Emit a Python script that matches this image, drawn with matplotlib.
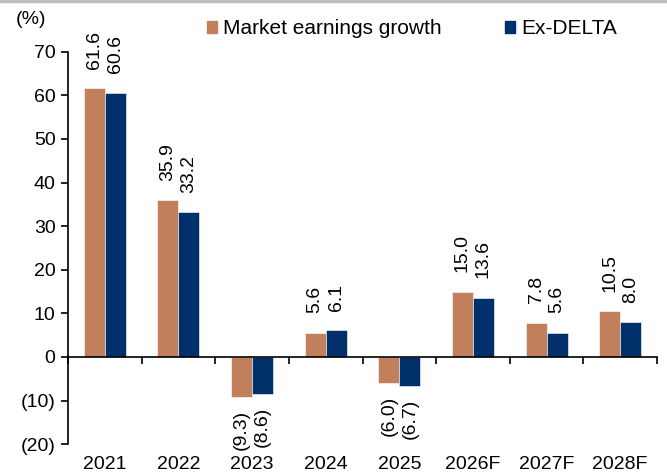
import matplotlib.pyplot as plt
import matplotlib.patches as mpatches
from matplotlib.lines import Line2D
import numpy as np

plt.rcParams['font.family'] = ['Liberation Sans', 'DejaVu Sans']

years = ['2021', '2022', '2023', '2024', '2025', '2026F', '2027F', '2028F']
market = [61.6, 35.9, -9.3, 5.6, -6.0, 15.0, 7.8, 10.5]
ex_delta = [60.6, 33.2, -8.6, 6.1, -6.7, 13.6, 5.6, 8.0]
yticks = [-20, -10, 0, 10, 20, 30, 40, 50, 60, 70]

tan = '#C17F5B'
navy = '#00306A'
fs = 14


def fmt(v):
    return f'({abs(v):.1f})' if v < 0 else f'{v:.1f}'


fig = plt.figure(figsize=(6.67, 4.75), dpi=100)
ax = fig.add_axes([0.102, 0.065, 0.883, 0.826])

x = np.arange(len(years))
w = 0.285
b1 = ax.bar(x - w / 2, market, w, color=tan, edgecolor='white', linewidth=0.4)
b2 = ax.bar(x + w / 2, ex_delta, w, color=navy, edgecolor='white', linewidth=0.4)

for bars, vals in ((b1, market), (b2, ex_delta)):
    for rect, v in zip(bars, vals):
        cx = rect.get_x() + rect.get_width() / 2
        if v >= 0:
            ax.annotate(fmt(v), (cx, v), xytext=(0, 14), textcoords='offset points',
                        rotation=90, ha='center', va='bottom', fontsize=fs)
        else:
            ax.annotate(fmt(v), (cx, v), xytext=(0, -9), textcoords='offset points',
                        rotation=90, ha='center', va='top', fontsize=fs)

ax.set_xlim(-0.5, len(years) - 0.5)
ax.set_ylim(-20, 70)
ax.set_yticks(yticks)
ax.set_yticklabels([f'({abs(v)})' if v < 0 else str(v) for v in yticks])
ax.tick_params(axis='y', direction='out', length=5, width=1.2, labelsize=fs, pad=4)

for s in ['top', 'right']:
    ax.spines[s].set_visible(False)
ax.spines['left'].set_linewidth(1.2)
ax.spines['bottom'].set_position(('data', 0))
ax.spines['bottom'].set_linewidth(1.2)

ax.set_xticks(np.arange(len(years) + 1) - 0.5, minor=True)
ax.set_xticks([])
ax.tick_params(axis='x', which='minor', direction='out', length=5, width=1.2)

for xi, lab in zip(x, years):
    ax.text(xi, -0.03, lab, transform=ax.get_xaxis_transform(), ha='center', va='top',
            fontsize=fs, clip_on=False)

fig.text(0.047, 0.958, '(%)', fontsize=fs, ha='center', va='center')

handles = [mpatches.Patch(color=tan, label='Market earnings growth'),
           mpatches.Patch(color=navy, label='Ex-DELTA')]
ax.legend(handles=handles, loc='center left', bbox_to_anchor=(0.31, 0.939),
          bbox_transform=fig.transFigure, ncol=2, frameon=False, fontsize=15,
          handlelength=0.5, handleheight=0.5, handletextpad=0.3, columnspacing=3.0,
          borderpad=0, borderaxespad=0)

fig.add_artist(Line2D([0, 1], [0.998, 0.998], transform=fig.transFigure,
                      color='#C0C0C0', linewidth=2.5))

fig.savefig('out.png', dpi=100)
